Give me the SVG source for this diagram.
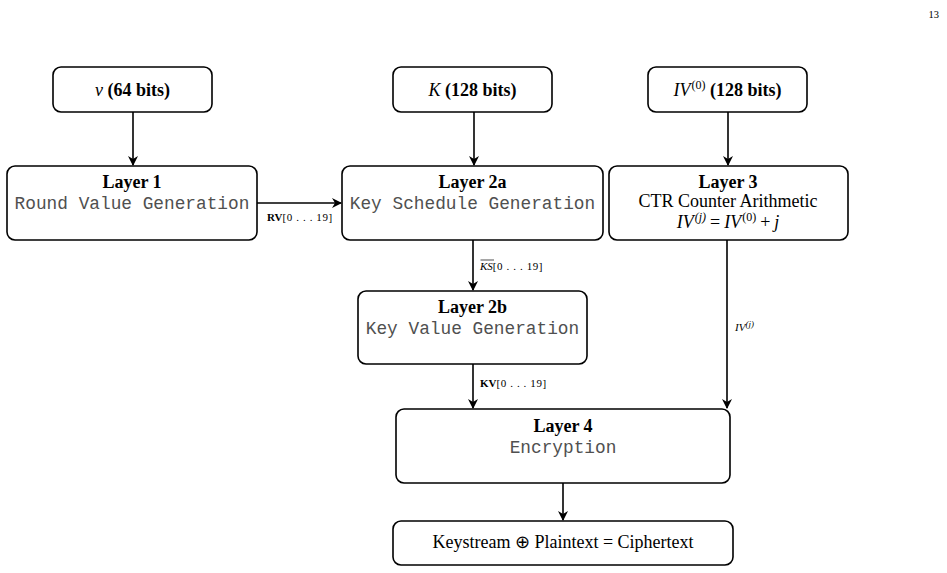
<svg xmlns="http://www.w3.org/2000/svg" width="947" height="573" viewBox="0 0 947 573">
<style>
.box{fill:#fff;stroke:#000;stroke-width:1.6}
.t{font-family:"Liberation Serif",serif;font-size:18px;fill:#000;text-anchor:middle}
.b{font-weight:bold}
.m{font-family:"Liberation Mono",monospace;font-size:17.8px;fill:#505050;text-anchor:middle}
.i{font-style:italic}
.l{font-family:"Liberation Serif",serif;font-size:11px;fill:#000}
.c{fill:none;stroke:#000;stroke-width:1.6}
</style>
<defs>
<marker id="ar" viewBox="0 0 10 10" refX="9" refY="5" markerWidth="10" markerHeight="10" markerUnits="userSpaceOnUse" orient="auto">
<path d="M0,0 L10,5 L0,10 L3,5 Z" fill="#000"/>
</marker>
</defs>
<rect width="947" height="573" fill="#fff"/>
<text x="939" y="18" class="l" style="font-size:10.5px" text-anchor="end">13</text>

<g id="connectors">
<line class="c" x1="133" y1="112" x2="133" y2="165" marker-end="url(#ar)"/>
<line class="c" x1="474" y1="112" x2="474" y2="165" marker-end="url(#ar)"/>
<line class="c" x1="728" y1="112" x2="728" y2="165" marker-end="url(#ar)"/>
<line class="c" x1="257" y1="203" x2="341" y2="203" marker-end="url(#ar)"/>
<text x="267" y="221" class="l"><tspan font-weight="bold">RV</tspan><tspan letter-spacing="0.6">[0 . . . 19]</tspan></text>
<line class="c" x1="473" y1="240" x2="473" y2="290" marker-end="url(#ar)"/>
<text x="480" y="270" class="l"><tspan font-style="italic">KS</tspan><tspan letter-spacing="0.6">[0 . . . 19]</tspan></text>
<line x1="480.5" y1="260" x2="494" y2="260" stroke="#000" stroke-width="0.7"/>
<line class="c" x1="473" y1="364" x2="473" y2="408" marker-end="url(#ar)"/>
<text x="480" y="387" class="l"><tspan font-weight="bold">KV</tspan><tspan letter-spacing="0.6">[0 . . . 19]</tspan></text>
<line class="c" x1="727" y1="240" x2="727" y2="408" marker-end="url(#ar)"/>
<text x="735" y="331" class="l" font-style="italic">IV<tspan dy="-4.5" font-size="9">(j)</tspan></text>
<line class="c" x1="563" y1="483" x2="563" y2="520" marker-end="url(#ar)"/>
</g>

<g id="nu">
<rect class="box" x="53" y="67" width="159" height="45" rx="8"/>
<text x="132.5" y="96" class="t"><tspan class="i">ν</tspan> <tspan class="b">(64 bits)</tspan></text>
</g>
<g id="key">
<rect class="box" x="393" y="67" width="159" height="45" rx="8"/>
<text x="472.5" y="96" class="t"><tspan class="i">K</tspan> <tspan class="b">(128 bits)</tspan></text>
</g>
<g id="iv0">
<rect class="box" x="648" y="67" width="159" height="45" rx="8"/>
<text x="727.5" y="96" class="t"><tspan class="i">IV</tspan><tspan dx="1" dy="-7" font-size="12">(0)</tspan><tspan dy="7"> </tspan><tspan class="b">(128 bits)</tspan></text>
</g>
<g id="layer1">
<rect class="box" x="7" y="166" width="250" height="74" rx="8"/>
<text x="132" y="188" class="t b">Layer 1</text>
<text x="132" y="209" class="m">Round Value Generation</text>
</g>
<g id="layer2a">
<rect class="box" x="342" y="166" width="261" height="74" rx="8"/>
<text x="472.5" y="188" class="t b">Layer 2a</text>
<text x="472.5" y="209" class="m">Key Schedule Generation</text>
</g>
<g id="layer3">
<rect class="box" x="609" y="166" width="239" height="74" rx="8"/>
<text x="728" y="188" class="t b">Layer 3</text>
<text x="728" y="207" class="t">CTR Counter Arithmetic</text>
<text x="728" y="228" class="t"><tspan class="i">IV</tspan><tspan dx="1" dy="-7" font-size="12" class="i">(j)</tspan><tspan dx="4" dy="7">=</tspan><tspan dx="4" class="i">IV</tspan><tspan dx="1" dy="-7" font-size="12">(0)</tspan><tspan dx="4" dy="7">+</tspan><tspan dx="4" class="i">j</tspan></text>
</g>
<g id="layer2b">
<rect class="box" x="358" y="291" width="229" height="73" rx="8"/>
<text x="472.5" y="313" class="t b">Layer 2b</text>
<text x="472.5" y="334" class="m">Key Value Generation</text>
</g>
<g id="layer4">
<rect class="box" x="396" y="409" width="334" height="74" rx="8"/>
<text x="563" y="432" class="t b">Layer 4</text>
<text x="563" y="453" class="m">Encryption</text>
</g>
<g id="output">
<rect class="box" x="393" y="521" width="340" height="44" rx="8"/>
<text x="563" y="548" class="t">Keystream ⊕ Plaintext = Ciphertext</text>
</g>
</svg>
